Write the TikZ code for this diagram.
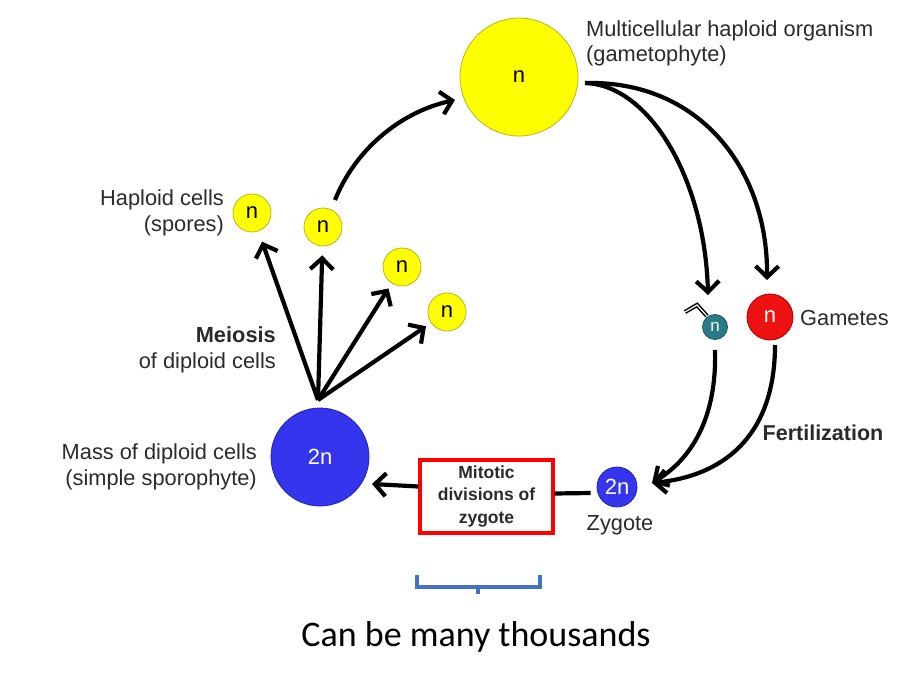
\documentclass[tikz,border=0pt]{standalone}
\usepackage{fontspec}
\setmainfont{Liberation Sans}
\newfontfamily\calibfont{Carlito}
\usetikzlibrary{arrows.meta,calc}
\definecolor{cyel}{HTML}{FFFF00}
\definecolor{cyelb}{HTML}{B5B520}
\definecolor{cblue}{HTML}{3535EE}
\definecolor{cblueb}{HTML}{2222AA}
\definecolor{cred}{HTML}{EE1111}
\definecolor{credb}{HTML}{AA0000}
\definecolor{cteal}{HTML}{2B7A8A}
\definecolor{ctext}{HTML}{2A2A2A}
\definecolor{cbrack}{HTML}{4472C4}
\begin{document}
\begin{tikzpicture}[x=1pt,y=-1pt,
  cellbase/.style={circle,inner sep=0pt,line width=0.8pt},
  ycell/.style={cellbase,fill=cyel,draw=cyelb,minimum size=#1,font=\fontsize{22}{22}\selectfont,text=black},
  bcell/.style={cellbase,fill=cblue,draw=cblueb,minimum size=#1,font=\fontsize{22}{22}\selectfont,text=white},
  rcell/.style={cellbase,fill=cred,draw=credb,minimum size=#1,font=\fontsize{22}{22}\selectfont,text=white},
  tcell/.style={cellbase,fill=cteal,draw=cteal!70!black,minimum size=#1,font=\fontsize{17}{17}\selectfont,text=white},
  arr/.style={line width=4.2pt,-{Straight Barb[length=11pt,width=23pt]}},
  lbl/.style={inner sep=0pt,text=ctext,font=\fontsize{21.8}{25.5}\selectfont},
]
\useasboundingbox (0,0) rectangle (897,684);

% cells
\node[ycell=118] (gam) at (519,77) {n};
\node[ycell=38] (s1) at (252,213) {n};
\node[ycell=38] (s2) at (323,227) {n};
\node[ycell=38] (s3) at (402,267) {n};
\node[ycell=38] (s4) at (447,312) {n};
\node[bcell=98] (spo) at (320,457) {2n};
\node[bcell=40] (zyg) at (617,487) {2n};
\node[rcell=46] (egg) at (770,317) {n};
\node[tcell=25] (sperm) at (715,327) {n};

% sperm tail
\draw[line width=1.5pt,double=white,double distance=1.2pt]
  ($(sperm)+(-8,-11)$) -- ($(sperm)+(-18,-22)$) -- ($(sperm)+(-30,-15)$);

% box
\node[draw=red,line width=3.2pt,minimum width=133,minimum height=73,inner sep=0pt,
  align=center,font=\bfseries\fontsize{17.5}{22.5}\selectfont,text=ctext] (box) at (486.5,496.5)
  {Mitotic\\divisions of\\zygote};

% meiosis arrows
\coordinate (m0) at ($(spo)+(-2,-57)$);
\draw[arr,shorten >=11pt] (m0) -- (s1);
\draw[arr,shorten >=9pt] (m0) -- (s2);
\draw[arr,shorten >=6pt] (m0) -- (s3);
\draw[arr,shorten >=6pt] (m0) -- (s4);

% spore to gametophyte
\coordinate (a1) at ($(s2)+(12,-27)$);
\coordinate (a1e) at ($(gam)+(-64,23)$);
\draw[arr] (a1) .. controls +(20,-50) and +(-55,12) .. (a1e);

% gametophyte to gametes
\coordinate (gstart) at ($(gam)+(66,6)$);
\coordinate (spermtip) at ($(sperm)+(-7,-32)$);
\coordinate (eggtip) at ($(egg)+(-3,-37)$);
\draw[arr] (gstart) .. controls +(65,2) and +(-3,-115) .. (spermtip);
\draw[arr] (gstart) .. controls +(115,-3) and +(1,-110) .. (eggtip);

% fertilization
\coordinate (fs) at ($(sperm)+(0,23)$);
\coordinate (fe) at ($(egg)+(5,28)$);
\coordinate (ftip) at ($(zyg)+(35,-4)$);
\draw[arr] (fs) .. controls +(2,70) and +(38,-23) .. (ftip);
\draw[arr] (fe) .. controls +(0,85) and +(78,-8) .. (ftip);

% mitotic arrows
\draw[arr] ($(box.west)+(0,-10)$) -- ($(spo)+(52,27)$);
\draw[line width=4.2pt] ($(box.east)+(0,-3)$) -- ($(zyg.west)+(-6,6)$);

% labels
\node[lbl,align=left,anchor=west] (lgam) at (586,43.5) {Multicellular haploid organism\\(gametophyte)};
\node[lbl,align=right,anchor=east] (lspore) at (224,213) {Haploid cells\\(spores)};
\node[lbl,align=right,anchor=east] (lmei) at (276,350) {\textbf{Meiosis}\\of diploid cells};
\node[lbl,align=right,anchor=east] (lspo) at (257,467) {Mass of diploid cells\\(simple sporophyte)};
\node[lbl,anchor=west] (lgamete) at (800,318) {Gametes};
\node[lbl,font=\bfseries\fontsize{21.5}{24}\selectfont] (lfert) at (823,433) {Fertilization};
\node[lbl] (lzyg) at (620,525) {Zygote};

% bracket
\draw[cbrack,line width=3.5pt] (417,575) -- (417,587) -- (540,587) -- (540,575);
\draw[cbrack,line width=3.5pt] (478,586) -- (478,594);
\node[inner sep=0pt,font=\calibfont\fontsize{36}{36}\selectfont,text=black] (lthou) at (476,637) {Can be many thousands};
\end{tikzpicture}
\end{document}
